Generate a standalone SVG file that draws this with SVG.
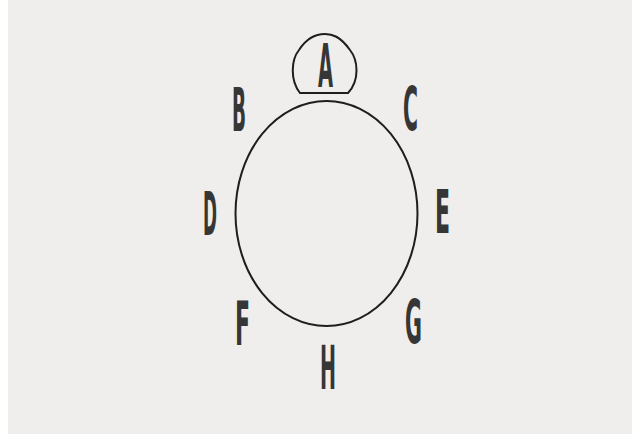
<svg xmlns="http://www.w3.org/2000/svg" width="640" height="438" viewBox="0 0 640 438">
<style>
.lbl{font-family:"Liberation Sans Narrow","DejaVu Sans Condensed","Liberation Sans",sans-serif;font-weight:bold;font-size:61px;fill:#363636;text-anchor:start}
.ln{fill:none;stroke:#1e1e1e;stroke-width:2}
</style>
<rect width="640" height="438" fill="#ffffff"/>
<rect x="8" y="0" width="624" height="434" fill="#efeeec"/>
<g id="table">
<ellipse class="ln" cx="326.5" cy="213.5" rx="91" ry="112.5"/>
</g>
<g id="A">
<path class="ln" d="M300,93 L348,93 C360,80 358,60 350,50 C340,36 332,34 325,34 C318,34 308,36 299,50 C291,60 290,80 300,93 Z"/>
<text class="lbl" x="318" y="87" textLength="15" lengthAdjust="spacingAndGlyphs">A</text>
</g>
<g id="B"><text class="lbl" x="232" y="131" textLength="14" lengthAdjust="spacingAndGlyphs">B</text></g>
<g id="C"><text class="lbl" x="403" y="130" textLength="15" lengthAdjust="spacingAndGlyphs">C</text></g>
<g id="D"><text class="lbl" x="203" y="235" textLength="14" lengthAdjust="spacingAndGlyphs">D</text></g>
<g id="E"><text class="lbl" x="435" y="233" textLength="15" lengthAdjust="spacingAndGlyphs">E</text></g>
<g id="F"><text class="lbl" x="235" y="345" textLength="15" lengthAdjust="spacingAndGlyphs">F</text></g>
<g id="G"><text class="lbl" x="405" y="343" textLength="17" lengthAdjust="spacingAndGlyphs">G</text></g>
<g id="H"><text class="lbl" x="320" y="389" textLength="16" lengthAdjust="spacingAndGlyphs">H</text></g>
<g id="connectors"></g>
</svg>
